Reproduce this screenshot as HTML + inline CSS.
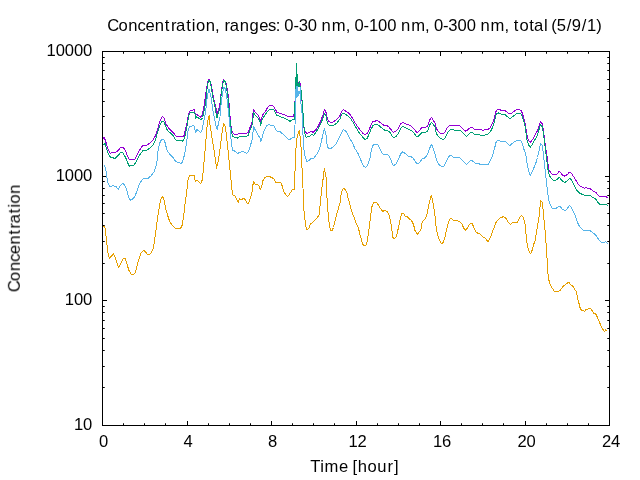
<!DOCTYPE html>
<html><head><meta charset="utf-8"><title>Concentration</title>
<style>html,body{margin:0;padding:0;background:#fff;overflow:hidden}svg{display:block}</style>
</head><body>
<svg width="640" height="480" viewBox="0 0 640 480">
<rect x="0" y="0" width="640" height="480" fill="#fff"/>
<rect x="102.5" y="51.5" width="507" height="374" fill="none" stroke="#000" stroke-width="1"/>
<path d="M102.500 425.5 v-4.5 M102.500 51.5 v4.5 M123.500 425.5 v-2.25 M123.500 51.5 v2.25 M144.500 425.5 v-2.25 M144.500 51.5 v2.25 M165.500 425.5 v-2.25 M165.500 51.5 v2.25 M187.500 425.5 v-4.5 M187.500 51.5 v4.5 M208.500 425.5 v-2.25 M208.500 51.5 v2.25 M229.500 425.5 v-2.25 M229.500 51.5 v2.25 M250.500 425.5 v-2.25 M250.500 51.5 v2.25 M271.500 425.5 v-4.5 M271.500 51.5 v4.5 M292.500 425.5 v-2.25 M292.500 51.5 v2.25 M313.500 425.5 v-2.25 M313.500 51.5 v2.25 M334.500 425.5 v-2.25 M334.500 51.5 v2.25 M356.500 425.5 v-4.5 M356.500 51.5 v4.5 M377.500 425.5 v-2.25 M377.500 51.5 v2.25 M398.500 425.5 v-2.25 M398.500 51.5 v2.25 M419.500 425.5 v-2.25 M419.500 51.5 v2.25 M440.500 425.5 v-4.5 M440.500 51.5 v4.5 M461.500 425.5 v-2.25 M461.500 51.5 v2.25 M482.500 425.5 v-2.25 M482.500 51.5 v2.25 M503.500 425.5 v-2.25 M503.500 51.5 v2.25 M525.500 425.5 v-4.5 M525.500 51.5 v4.5 M546.500 425.5 v-2.25 M546.500 51.5 v2.25 M567.500 425.5 v-2.25 M567.500 51.5 v2.25 M588.500 425.5 v-2.25 M588.500 51.5 v2.25 M609.500 425.5 v-4.5 M609.500 51.5 v4.5 M102.5 425.500 h4.5 M609.5 425.500 h-4.5 M102.5 387.500 h2.25 M609.5 387.500 h-2.25 M102.5 366.500 h2.25 M609.5 366.500 h-2.25 M102.5 350.500 h2.25 M609.5 350.500 h-2.25 M102.5 338.500 h2.25 M609.5 338.500 h-2.25 M102.5 328.500 h2.25 M609.5 328.500 h-2.25 M102.5 320.500 h2.25 M609.5 320.500 h-2.25 M102.5 312.500 h2.25 M609.5 312.500 h-2.25 M102.5 306.500 h2.25 M609.5 306.500 h-2.25 M102.5 300.500 h4.5 M609.5 300.500 h-4.5 M102.5 263.500 h2.25 M609.5 263.500 h-2.25 M102.5 241.500 h2.25 M609.5 241.500 h-2.25 M102.5 225.500 h2.25 M609.5 225.500 h-2.25 M102.5 213.500 h2.25 M609.5 213.500 h-2.25 M102.5 203.500 h2.25 M609.5 203.500 h-2.25 M102.5 195.500 h2.25 M609.5 195.500 h-2.25 M102.5 188.500 h2.25 M609.5 188.500 h-2.25 M102.5 181.500 h2.25 M609.5 181.500 h-2.25 M102.5 176.500 h4.5 M609.5 176.500 h-4.5 M102.5 138.500 h2.25 M609.5 138.500 h-2.25 M102.5 116.500 h2.25 M609.5 116.500 h-2.25 M102.5 101.500 h2.25 M609.5 101.500 h-2.25 M102.5 89.500 h2.25 M609.5 89.500 h-2.25 M102.5 79.500 h2.25 M609.5 79.500 h-2.25 M102.5 70.500 h2.25 M609.5 70.500 h-2.25 M102.5 63.500 h2.25 M609.5 63.500 h-2.25 M102.5 57.500 h2.25 M609.5 57.500 h-2.25 M102.5 51.500 h4.5 M609.5 51.500 h-4.5" stroke="#000" stroke-width="1" fill="none"/>
<g opacity="0.999" font-family="'Liberation Sans', sans-serif" font-size="16.6" fill="#000"><text x="107.21 118.38 128.19 137.49 145.40 154.84 164.87 170.88 176.06 186.28 191.83 195.97 205.79 214.90 224.50 229.68 239.78 249.59 259.15 268.05 275.76 284.36 293.38 298.65 307.86 321.59 331.76 345.70 354.58 363.60 368.97 378.08 387.26 400.99 411.15 425.09 433.97 442.99 448.25 457.47 466.65 480.38 490.54 504.48 513.86 519.42 529.35 533.91 543.88 551.22 556.81 566.63 571.87 581.76 587.08 596.25" y="30.80">Concentration,ranges:0-30nm,0-100nm,0-300nm,total(5/9/1)</text>
<text x="46.56 55.65 64.80 73.96 83.11" y="56.00">10000</text>
<text x="55.71 64.80 73.96 83.11" y="180.67">1000</text>
<text x="64.86 73.96 83.11" y="305.33">100</text>
<text x="74.02 83.11" y="430.00">10</text>
<text x="98.98" y="446.80">0</text>
<text x="183.54" y="446.80">4</text>
<text x="267.98" y="446.80">8</text>
<text x="348.47 357.53" y="446.80">12</text>
<text x="432.97 442.07" y="446.80">16</text>
<text x="517.38 526.56" y="446.80">20</text>
<text x="601.88 611.12" y="446.80">24</text>
<text x="310.37 320.13 324.62 338.93 352.41 357.76 367.55 377.29 387.57 393.91" y="471.60">Time[hour]</text>
<text transform="translate(19.85,291.40) rotate(-90)" x="-0.80 10.34 20.14 29.41 37.30 46.73 56.74 62.73 67.90 78.10 83.64 87.77 97.56" y="0">Concentration</text></g>
<path d="M103 138.5 L104 137 L105 139.5 L106.25 143.12 L108.12 149.38 L110.25 153.12 L112.5 152.75 L115 152.75 L118.12 150.62 L120.62 147.25 L123.12 147.25 L125 150 L126.88 154.38 L129.38 160 L131.88 159.62 L134.75 159.38 L137.5 153.75 L140 149.38 L142.5 145.62 L146.25 145.38 L149.38 143.5 L152.5 140.62 L155.62 135.62 L157.5 130 L159.38 122.5 L161.25 118.12 L162.5 116.25 L164.38 118.75 L166.25 124.38 L168.75 128.12 L172.5 131.88 L176.25 136.25 L180 136.5 L182.5 136.88 L184.38 135 L185.31 129.69 L186.56 125.62 L187.5 119.38 L188.44 114.38 L189.38 111.88 L190.94 110.31 L192.81 110 L194.25 109.38 L194.69 111.25 L195.31 113.75 L196.88 114.69 L198.75 115.94 L200.94 117.19 L202.19 114.38 L203.44 109.38 L204.5 103.12 L205.38 96.25 L206.88 86.25 L208.25 79.75 L209.75 79.75 L211.38 85.62 L212.62 93.12 L214.12 100.62 L216.12 108.12 L217 113.75 L218.44 110 L219.69 105.94 L221 93.75 L222.5 83.75 L223.5 79.38 L225.5 81.25 L226.88 86.88 L228.12 94.38 L229.12 104.38 L230 115.62 L231 126.25 L232.25 132.5 L234.38 134.38 L236.88 134.75 L239.38 133.12 L241.25 134 L243.12 133.12 L245.62 133.75 L248.12 132.5 L249.38 129.38 L250.62 125.62 L251.88 123.12 L252.5 116.88 L253.44 109.38 L255 111.88 L256.88 113.75 L258.75 116.25 L260 119.38 L260.94 121.56 L261.88 117.5 L263.44 113.44 L265.62 111.25 L267.5 107.5 L269.38 105.31 L273.75 106.25 L275 108.75 L276.88 112.19 L280 113.44 L285 115 L288.75 116.88 L293.5 116.25 L294.38 112.5 L294.62 102.5 L295.5 100 L295.5 77.5 L296.5 77 L296.5 63.4 L296.5 80 L297.5 74.5 L297.5 84 L298.5 83.2 L299.5 81.4 L300.5 85.6 L301.5 93.75 L302.25 103.75 L303.12 117.5 L304 127.5 L305.62 132.5 L307.5 133.5 L311.25 131.25 L313.12 132.5 L315.62 130 L318.12 126.25 L320.62 121.25 L322.5 116.25 L324.62 109.38 L326.25 113.12 L327.5 119.38 L329.38 121.88 L332.5 122.25 L336.25 120 L338.12 118.12 L340 115.62 L341.5 111.25 L343.5 109.38 L345.62 111 L348.12 112.5 L350.62 115.25 L353.12 119.38 L355.62 123.75 L358.12 127.5 L360.62 130.62 L363.12 133.5 L365 134.38 L366.88 133.75 L368.75 130.62 L371 125 L372.75 121.88 L375 121.25 L376.88 120.25 L379.38 121.88 L381.88 123.75 L384.38 125.62 L386.88 125.62 L389.38 127.5 L391.25 130 L393.12 132.25 L395 131.88 L397.25 130 L399.38 126.25 L401.25 123.12 L403.12 122.5 L406.25 124 L409.38 125 L411.88 126.88 L414.38 129.38 L416.5 132.25 L418.12 131.88 L420 130 L421.88 127.5 L424.38 127.25 L426.88 126.88 L428.5 123.75 L430 119.38 L431.5 117.25 L433.12 120 L435 123.12 L436.25 128.12 L438.12 131.25 L440.62 133.75 L443.12 134 L445 131.88 L446.88 128.12 L449.38 125.62 L454.38 125.38 L459.38 125.38 L461.88 127.75 L464.38 130.25 L466 131.25 L468.12 129.38 L470.62 127.25 L472.5 127.75 L474.38 129.38 L477.5 129.38 L480.62 129.75 L483.12 130.25 L485.62 129.38 L488.12 129.38 L490 127.75 L491.88 124.38 L493.75 120 L495 115 L496.25 110.62 L497.75 109 L500 109.75 L502.5 111 L505 110.62 L507.5 112.5 L510 114 L512.5 112.5 L515 110.62 L516.88 109.38 L519.38 109.38 L521.25 110.62 L522.5 113.75 L524 118.75 L525.25 123.75 L526.25 130 L527.25 136.88 L528.75 140.62 L530.25 142.5 L532.25 140 L534.38 136.25 L536.5 132.5 L538.12 129.38 L539.38 125 L540.62 121.5 L542.25 123.75 L543.12 128.75 L544 135 L545 142.5 L546 150 L547.25 157.5 L548.12 165 L549 170 L550.62 172.5 L552.5 174.38 L555 174.75 L557.25 173.75 L558.75 171.88 L560 171.88 L562.5 175 L565 176.25 L567.5 174.38 L569.38 172.25 L570.62 172.25 L572.5 175 L575 178.75 L577.5 183.12 L580 186 L582.5 187.25 L584.38 188.12 L586.25 187.5 L588.12 188.5 L590.25 188.75 L592.5 190.62 L595.62 192.25 L597.5 194.38 L599.38 196.5 L603.12 196.5 L606.25 196.88 L607.75 197.5" stroke="#9400d3" stroke-width="1" fill="none" stroke-linejoin="round" shape-rendering="crispEdges"/>
<path d="M103.5 145 L105 143.12 L106.25 147.5 L108.12 153.12 L110.62 157.5 L112.5 157.5 L114.75 158.75 L118.12 155.62 L120.62 152.5 L123.12 153.12 L125.62 157.5 L127.5 162.5 L129.38 166.25 L131.88 165.62 L134.38 164.75 L136.88 160 L140 154.38 L143.12 150.25 L146.88 150 L150 148.12 L153.12 145 L155.62 140 L157.5 132.5 L160 125 L161.88 121.25 L163.75 121 L165.62 126.25 L167.5 130.62 L170 132.5 L173.12 135.62 L175.62 140 L180 140.25 L182.5 141.25 L184.38 138.75 L186.25 129.69 L187.5 123.12 L188.75 115.62 L190 113.12 L191.56 112.19 L194.06 112.19 L195.31 115 L195.75 118.75 L196.56 116.56 L198.75 118.12 L201.25 120 L202.5 117.5 L203.75 112.5 L204.69 107.5 L205.62 103.12 L207.25 86.25 L208.5 80.25 L209.75 80.25 L211 86.25 L212.25 93.75 L213.75 101.25 L215 106.88 L215.94 112.5 L216.88 118.12 L217.81 115 L219.06 110.62 L220 108.12 L221.25 93.75 L222.75 83.75 L223.75 80 L225.25 81.88 L226.5 87.5 L227.75 95 L228.75 105 L229.75 116.25 L230 120 L231.25 130 L232.5 136.25 L235 137.5 L237.5 138.12 L239.75 136.25 L241.88 136.88 L243.75 136 L246 136.88 L248.5 135 L250.31 129.38 L251.56 126.25 L252.5 124.38 L252.81 119.38 L253.62 112.5 L255 114.69 L256.88 116.88 L258.75 119.06 L260 121.88 L260.62 125.31 L261.56 121.25 L262.81 118.12 L265 115 L266.88 112.19 L269.38 109.38 L273.75 109.69 L275 111.88 L276.56 115 L280 116.56 L285 118.5 L290 121.25 L293.12 119.38 L294.38 120 L294.75 102.5 L295.5 100 L295.5 78 L296.5 77.5 L296.5 63.8 L296.5 86 L297.5 75 L297.5 86 L298.5 84 L298.5 87 L299.5 82 L299.5 87 L300.5 86.2 L301.5 94.4 L302.75 108.75 L303.75 125 L304.75 133.75 L306.25 137.25 L309.38 136.25 L311.88 134.38 L313.75 135.25 L316.25 131.88 L318.75 127.5 L321.25 122.5 L323.12 117.5 L324.75 113.12 L326.25 116.88 L327.5 123.12 L329.38 125.25 L333.75 125.25 L336.88 123.12 L338.75 120.62 L340 118.75 L341.5 114.38 L343.5 113.12 L345.62 114.38 L348.12 116.25 L350.62 118.75 L353.12 122.5 L355.62 126.88 L358.12 131.25 L360.62 134.75 L363.12 137.5 L365 139.38 L366.88 138.75 L368.75 135 L371 129.38 L373.12 125.25 L375 124.38 L377.25 124.38 L379.38 126 L381.88 128.12 L384.38 130 L387.5 130.62 L390 132.25 L391.5 135 L393.12 137.25 L395.62 136.88 L397.75 134.38 L399.75 130.62 L401.5 127.25 L403.12 126.5 L406.25 128.12 L409.38 129.75 L412.5 131.25 L414.75 134 L416.88 136.88 L418.5 136.25 L420 134.38 L421.88 132.75 L424.38 132.5 L426.88 131.88 L428.5 128.75 L430 124.38 L431.5 122.25 L433.12 124.38 L435 126.88 L436.25 133.12 L438.12 136.25 L440.62 138.75 L443.75 139.38 L445.62 136.88 L447.5 132.5 L450 129.75 L452.5 129.38 L455 130.25 L460 130.25 L462.5 132.75 L464.75 135 L466.25 136.5 L468.12 134.75 L470.62 132.5 L472.5 132.75 L474.38 134.38 L477.5 134.38 L480.62 135.25 L483.75 135.62 L486.25 134.38 L488.5 133.75 L490.25 131.88 L492.25 128.12 L494 123.12 L495.25 118.12 L496.5 113.75 L498.12 112.75 L500 113.75 L502.5 114.75 L505 114.38 L507.5 116.88 L510 118.5 L512.5 116.88 L515 114.75 L516.88 113.5 L519.38 113.12 L521.25 114.38 L522.5 117.5 L524 121.88 L525.25 127.5 L526.25 135 L527.25 141.25 L528.75 145.25 L530.25 147.25 L532.25 144.38 L534.38 140.62 L536.5 136.88 L538.12 133.12 L539.38 128.12 L540.62 124.38 L542.25 126.88 L543.12 131.88 L544 138.12 L545 145.62 L545.88 152.5 L546.5 157.5 L547.5 166.25 L548.5 172.5 L549.75 176.25 L551.5 178.75 L553.5 180.25 L555.62 180.25 L557.5 179 L559 177.5 L560 178.12 L562.5 181.25 L565 182.5 L567.5 180.62 L569.38 178.75 L570.62 178.75 L572.5 181.88 L575 186.88 L577.5 191.25 L580 193.5 L582.5 194.38 L584.38 195.38 L586.88 195.38 L590.25 195.62 L592.5 197.25 L595.62 198.75 L597.5 201.88 L599.38 204 L603.12 204.38 L606.25 204.75 L607.75 205.62" stroke="#009e73" stroke-width="1" fill="none" stroke-linejoin="round" shape-rendering="crispEdges"/>
<path d="M103.5 166.25 L104.75 165.62 L106 171.25 L106.88 177.5 L107.75 182.5 L109.38 186 L111.25 186.5 L113.12 185 L114.38 186.5 L116.25 186.88 L118.5 189.38 L120 185.62 L122.88 183.12 L125 185.62 L126.88 190.62 L128.5 196.88 L130.38 200.25 L132.75 199 L135 196.25 L136.88 191.25 L139.38 184.38 L141.88 180 L143.75 178.38 L148.12 178.38 L151.25 175.62 L154.38 171.25 L156.25 165 L157.25 160 L158.12 150 L160 142.5 L161.88 139 L163.75 139 L165 142.5 L166.88 150 L169.38 153.75 L172.5 156.88 L175 160.62 L177.5 162.25 L180 162.5 L180 163.12 L181.5 163.75 L183.5 158.75 L185.25 151.25 L186.88 140 L188.12 130 L190 126.25 L194 125.62 L195.62 132.5 L196.88 129.38 L200.62 132.5 L202.5 128.75 L202.81 126.25 L203.75 121.25 L204.69 117.5 L205.31 112.5 L206.25 106.25 L207.5 95 L209 88.75 L210.62 95 L212.19 105 L212.81 110 L213.75 114.38 L214.69 119.38 L215.62 124.38 L216.56 128.12 L217.19 129.38 L218.12 125 L219.06 120.62 L220 116.88 L220.62 107.5 L222.5 93.75 L223.75 87.5 L225.25 88.75 L226.88 97.5 L228.12 108.75 L229.38 120 L230.25 130 L231.25 141.25 L232.5 150 L235 151.25 L237.5 153.5 L240 152.25 L242.5 151.25 L244.38 152.25 L246.5 153.5 L248.5 151.25 L250.62 145 L252.25 138.75 L253.12 131.25 L253.75 126.25 L255 129.38 L257.5 133.75 L260 138.12 L260.5 141.5 L261.5 139.38 L263.12 133.75 L265 128.75 L266.88 125.62 L269.06 124.06 L270.62 125.31 L273.75 125.62 L275 128.12 L276.88 131 L280 131.5 L283.12 134.38 L286.25 137.5 L289.38 139.75 L292.5 137.5 L294.38 137.25 L295 125 L295.5 110 L295.5 92 L296.5 86.5 L296.5 97.5 L297.5 87 L297.5 97 L298.5 92 L298.5 95.5 L299.5 91.5 L299.5 94 L300.5 88 L300.5 100 L301.5 108 L302.25 115 L303.12 137.5 L304 150 L305.25 157.5 L306.88 161.5 L308.75 160.62 L311.25 158.5 L313.5 159 L315.62 155.62 L318.75 151.25 L320.62 145 L322.5 136.25 L324.38 128.75 L326 135 L326.88 142.5 L327.5 147.5 L329.38 148.5 L332.5 147.75 L335.62 144.38 L338.12 139.38 L340 136.25 L341.5 132.5 L343.5 129.38 L345.62 131 L347.5 133.75 L350 138.75 L352.5 143.12 L355 148.75 L357.5 152.5 L358.12 153.75 L360 158.12 L361.88 162.5 L363.75 166.25 L365.62 167.5 L367.25 165.62 L368.75 161.88 L370.25 157.5 L370.62 153.75 L371.88 148.12 L373.5 144.38 L375.62 144 L377.5 144.38 L379.38 148.12 L381.25 151.88 L383.12 154 L385 155 L387.25 154.38 L389 156.25 L390.62 158.75 L391.88 163.12 L393.5 165.62 L395.62 164.38 L397.5 161.25 L399.38 156.88 L401.25 153.12 L402.75 151.88 L405.62 153.75 L408.12 156 L410.62 156.5 L413.12 158.12 L415 161.25 L417.25 164 L418.75 163.12 L420 162.25 L421.88 159 L424.38 158.12 L426.25 156.5 L428.12 153.12 L429.75 148.12 L431.5 144.38 L433.12 148.12 L434.38 152.5 L435.25 155 L436.88 160.62 L438.75 164.38 L441.25 166.25 L444 166.25 L445.62 163.12 L447.5 159 L449.38 156 L451 155.25 L453.12 157.25 L456.25 157.5 L459.75 157.5 L461.88 159.75 L464.38 162.25 L466.5 164.38 L468.5 162.5 L470.25 160.62 L472.25 160.62 L474 162.25 L475.62 163.5 L478.12 163.5 L480.62 164.38 L484.38 164.38 L488.12 164.38 L489.38 162.5 L491 159 L492.5 156 L493.5 151.88 L494.75 147.5 L496 142.5 L497.5 140.25 L500 141 L502.5 141.25 L505 141.25 L507.5 143.75 L510 145.62 L512.5 143.12 L515 141.5 L517.5 140.62 L520 140.25 L521.5 141.25 L522.75 145 L524 149.38 L525.75 153.75 L526.25 157.5 L527.25 165 L528.75 171.25 L530.25 175.62 L532.25 171.88 L534 167.5 L536 162.5 L537.5 157.5 L538.5 153.12 L539.38 148.75 L540.62 143.5 L542.25 145.62 L543.12 151.25 L544 160 L545 168.75 L546 177.5 L546.88 186.25 L547.75 193.75 L548.75 200 L550.25 205 L551.88 207.75 L553.75 209 L556.25 208.12 L558.5 206.88 L560 206.25 L562.5 209.38 L565 210.62 L567.25 208.75 L568.75 206.25 L569.75 205.62 L571.25 207.5 L573.12 211.25 L575 215 L576.25 218.75 L577.5 222.5 L579.38 226.25 L581.25 228.5 L583.12 230 L585 230.62 L590 230.62 L592.5 232.5 L595 234.38 L596.88 236.5 L598.5 239.38 L600 241.25 L601.88 242.5 L604.38 242.25 L605.62 241.5 L606.5 242.5 L607.75 243.75" stroke="#56b4e9" stroke-width="1" fill="none" stroke-linejoin="round" shape-rendering="crispEdges"/>
<path d="M103.5 226 L104.75 226.25 L106 236.25 L107.25 247.5 L108.25 255 L109.38 258.12 L111.5 256.25 L113.5 253.75 L115.62 258.75 L118.5 267.25 L120.62 263.75 L123.12 258.75 L125.25 258.5 L126.88 263.75 L128.75 270 L131.25 274.38 L133.12 274.75 L135.25 272.5 L136.88 266.25 L139 258.75 L141.25 252.5 L143.75 250.38 L145.62 251.88 L147.5 254.38 L150 254.38 L151.88 251.25 L153.5 247.5 L155 237.5 L156.5 226.25 L157.75 216.25 L158.75 210 L160.62 200 L162.5 196.25 L164 200 L165.62 208.75 L168.12 216.88 L169.38 220.62 L171.88 225 L174.62 227.88 L177.5 228.38 L180 228.38 L181 227.5 L182.25 225 L183.75 215 L185.25 202.5 L186.88 190 L188.12 178.75 L190 175.25 L194.38 175.25 L195.25 181.88 L196.88 180 L200.62 183.5 L202.25 180 L203.12 172.5 L204.38 157.5 L205.62 145 L206.5 132.5 L207.5 122.5 L208.44 118.12 L209.25 115.31 L209.69 119.38 L210 125 L211.25 132.5 L212.75 142.5 L214.38 152.5 L215.62 161.25 L216.5 168.12 L218.12 161.25 L219.75 151.25 L221.25 138.75 L222.5 128.75 L223.75 123.75 L225 126.25 L226.25 133.75 L227.5 145 L228.75 157.5 L230 170 L230.62 176.25 L231.88 188.75 L232.75 195 L234.75 195.62 L236.5 199.38 L238.12 202.25 L239.75 198.75 L241.25 200 L243.5 198.12 L245.25 199.75 L246.88 203.12 L248.5 203.12 L250 199.38 L251.88 193.12 L252.75 186.25 L253.5 181.25 L254.75 184 L257.25 184.38 L259 186.25 L260 189.38 L261.5 187.5 L263.12 180 L265 177.5 L268.12 176.25 L271.25 177.25 L273.75 178.75 L276 183.12 L278.75 182.25 L281.25 183.12 L282.5 186.88 L283.75 191.88 L285.62 194.38 L287.5 196.5 L289.38 194.38 L291.25 191.25 L292.75 189.38 L294 190 L294.75 178.75 L295.62 155 L296.5 140 L298.12 133.75 L299.38 130.62 L300.25 137.5 L301.25 150 L301.88 166.25 L302.75 178.75 L303.12 192.5 L304 211.25 L305.25 222.5 L306.5 229.38 L308.5 229 L310.25 224.38 L312.25 222.5 L315 220.25 L317.25 217.5 L319 215 L320 206.25 L321 196.25 L322.25 185 L323.12 178.75 L324.38 168.12 L325.62 175 L326.5 180 L326.88 196.25 L328.12 213.75 L329.38 225 L330.62 230 L331.88 231 L333.5 227.5 L335 221.25 L336.88 213.75 L338.75 206.88 L340 203.12 L341 195 L342.25 190 L343.75 188.5 L345.62 189.75 L347.25 193.75 L348.5 200 L349 201.25 L350.62 207.5 L352.5 213.75 L354.38 217.5 L356.25 223.75 L358.5 228.12 L360 235 L361.88 241.25 L363.5 246 L365.62 245.62 L366.88 242.5 L368.12 235 L369.38 226.25 L370.62 216.25 L371.88 206.88 L373.5 202.75 L376.88 202.5 L378.75 205.62 L380.62 208.75 L382.5 211.25 L385 210.62 L387.25 211.88 L389 215 L390.62 221.25 L391.88 230 L392.75 237.5 L394 238.5 L396 237.25 L397.5 231.88 L399 225 L400.62 217.5 L401.88 213.75 L403.5 213.5 L405.25 216.25 L407.5 216.88 L409.38 219 L411.5 220.62 L413.5 224.38 L415 230.62 L416.5 233.12 L417.75 234.38 L419 232.25 L420 231.25 L421.25 228.75 L422.25 221.88 L423.5 220.62 L425.25 218.75 L426.88 214.38 L428.12 208.75 L429.38 202.5 L430.62 196.88 L431.5 195.25 L432.5 200 L433.5 206.25 L434.75 213.75 L435.62 222.5 L436.5 230 L437.75 235 L439.38 240 L441 243.12 L442.25 243.5 L443.75 241.25 L445.25 236.25 L446.5 230 L448.12 223.12 L449.75 219.38 L451.25 218.12 L453.12 220.25 L456.25 220.62 L459.38 221.25 L461.88 224 L463.75 228.12 L465.25 230.62 L467.25 228.12 L469 225 L470.62 223.5 L472.5 224 L474 228.12 L475.62 231.5 L477.5 233.12 L479.38 233.5 L481.5 235.25 L483.5 237.25 L485.25 238.12 L486.88 240.62 L488.12 241.5 L489.75 238.75 L491.5 234.38 L493.12 230 L494.75 225.62 L496.25 221.88 L498.12 219.75 L500 218.12 L501.88 217.25 L503.5 216.5 L505.62 217.75 L507.5 221.25 L509.38 223.5 L510.62 224.38 L512.5 222.5 L514.75 222.25 L517.25 222.25 L518.75 219.38 L520.25 216.5 L521.5 215.25 L523.12 217.25 L524.75 221.88 L525.62 230 L526.5 238.75 L527.5 246.25 L529 250.62 L530.62 254 L532.25 250 L533.5 245 L535.25 240 L536.5 232.5 L537.75 225 L539 217.5 L539.75 210 L540.62 200.62 L542.25 202.5 L543.12 210 L544 220 L545 230 L546 242.5 L546.75 251.25 L547 257.5 L547.5 270 L548.5 278.75 L550 283.75 L551.88 287.5 L554.38 291.25 L557.5 291.5 L560 290.62 L561.88 288.12 L563.75 285.62 L566.25 284 L568.75 282.25 L570.62 284.75 L573.12 286.5 L575 289.75 L576.5 291.88 L577.5 298.12 L578.75 302.5 L580 307.5 L581.25 310 L583.12 310.62 L584.38 311.5 L586.25 309.38 L588.12 309 L590 308.12 L591.88 310.25 L593.5 313.12 L595.62 313.75 L597.25 316.88 L598.75 320.62 L600.62 325 L602.5 328.75 L604.38 331.5 L605.62 330 L607.5 331.5" stroke="#e69f00" stroke-width="1" fill="none" stroke-linejoin="round" shape-rendering="crispEdges"/>
</svg>
</body></html>
